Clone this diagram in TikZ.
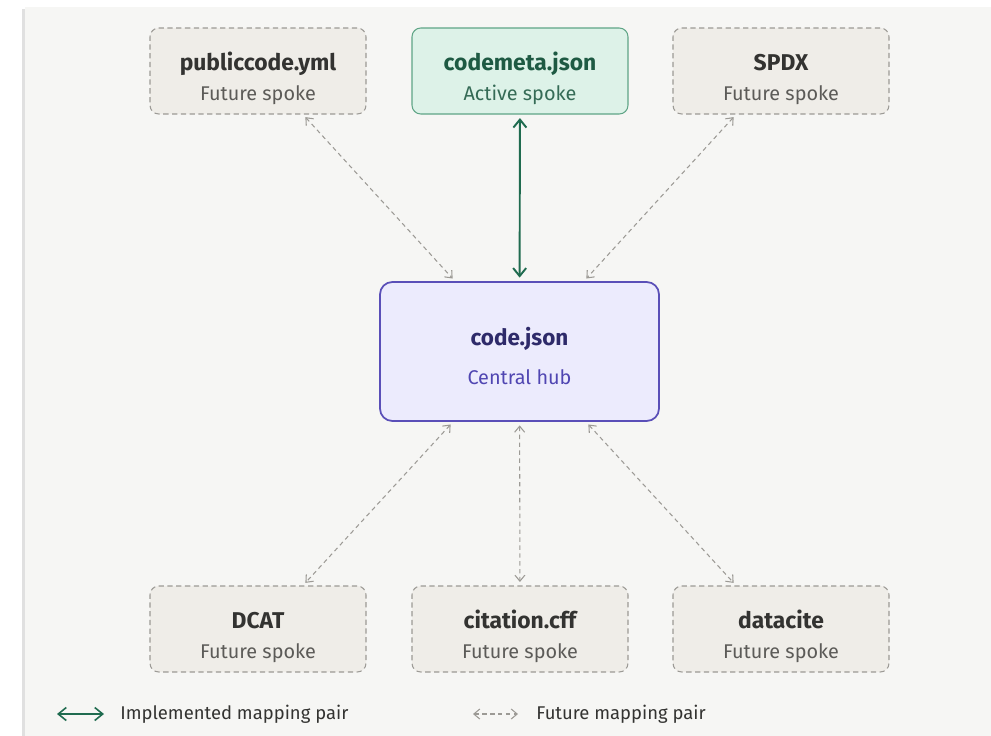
\documentclass[tikz,border=0pt]{standalone}
\usepackage{fontspec}
\setmainfont{Fira Sans}
\usetikzlibrary{arrows.meta}
\definecolor{panel}{HTML}{F6F6F4}
\definecolor{futfill}{HTML}{EFEDE8}
\definecolor{futline}{HTML}{9C9A95}
\definecolor{actfill}{HTML}{DDF2E8}
\definecolor{actline}{HTML}{5FA586}
\definecolor{acttext}{HTML}{1E5A43}
\definecolor{hubfill}{HTML}{ECEBFD}
\definecolor{hubline}{HTML}{5A4FB8}
\definecolor{hubtitle}{HTML}{2E2A6A}
\definecolor{hubsub}{HTML}{5046B2}
\definecolor{implgreen}{HTML}{1F6B4F}
\definecolor{darktext}{HTML}{333331}
\definecolor{subtext}{HTML}{5C5B58}
\tikzset{
  spoke/.style={rectangle, rounded corners=5pt, minimum width=4.32cm,
    minimum height=1.72cm, align=center, font=\fontsize{13}{17}\selectfont},
  future/.style={spoke, fill=futfill, draw=futline, dashed, dash pattern=on 3pt off 2pt, line width=0.6pt},
  active/.style={spoke, fill=actfill, draw=actline, line width=0.6pt},
  hubbox/.style={rectangle, rounded corners=7pt, minimum width=5.58cm,
    minimum height=2.78cm, align=center, fill=hubfill, draw=hubline, line width=1pt,
    font=\fontsize{12.8}{22.2}\selectfont},
  implemented/.style={{Straight Barb[length=1.6mm,width=2.6mm]}-{Straight Barb[length=1.6mm,width=2.6mm]}, implgreen, line width=1.1pt},
  planned/.style={{Straight Barb[length=1.2mm,width=2mm]}-{Straight Barb[length=1.2mm,width=2mm]}, futline, dashed, dash pattern=on 2.5pt off 2pt, line width=0.6pt}
}
\newcommand{\spokelabel}[4]{\rule{0pt}{19pt}{\bfseries\color{#3}#1}\\{\fontsize{11.3}{12}\selectfont\color{#4}#2}}
\begin{document}
\begin{tikzpicture}
  \useasboundingbox (0,0) rectangle (19.82,-14.72);
  \fill[black!12] (0.44,-0.18) rectangle (19.82,-14.72);
  \fill[panel] (0.5,-0.14) rectangle (19.82,-14.72);
  \draw
    (5.16,-1.42) node[future] (pub){\spokelabel{publiccode.yml}{Future spoke}{darktext}{subtext}}
    (10.4,-1.42) node[active] (meta){\spokelabel{codemeta.json}{Active spoke}{acttext}{acttext!90!white}}
    (15.62,-1.42) node[future] (spdx){\spokelabel{SPDX}{Future spoke}{darktext}{subtext}}
    (10.39,-7.03) node[hubbox] (hub){\rule{0pt}{16pt}{\bfseries\color{hubtitle}code.json}\\{\fontsize{11.3}{12}\selectfont\color{hubsub}Central hub}}
    (5.16,-12.58) node[future] (dcat){\spokelabel{DCAT}{Future spoke}{darktext}{subtext}}
    (10.4,-12.58) node[future] (cff){\spokelabel{citation.cff}{Future spoke}{darktext}{subtext}}
    (15.62,-12.58) node[future] (dc){\spokelabel{datacite}{Future spoke}{darktext}{subtext}};
  \begin{scope}[shorten <=2pt, shorten >=2pt]
    \draw[implemented] (meta) to (hub);
    \draw[planned] ([xshift=0.9cm]pub.south) to ([xshift=-1.29cm]hub.north);
    \draw[planned] ([xshift=-0.9cm]spdx.south) to ([xshift=1.29cm]hub.north);
    \draw[planned] ([xshift=-1.33cm]hub.south) to ([xshift=0.9cm]dcat.north);
    \draw[planned] (hub) to (cff);
    \draw[planned] ([xshift=1.33cm]hub.south) to ([xshift=-0.9cm]dc.north);
  \end{scope}
  % legend
  \coordinate (imA) at (1.14,-14.28);
  \coordinate (imB) at (2.08,-14.28);
  \coordinate (fuA) at (9.46,-14.28);
  \coordinate (fuB) at (10.36,-14.28);
  \draw[implemented, line width=0.9pt] (imA) to (imB);
  \draw[planned] (fuA) to (fuB);
  \node[anchor=west, inner sep=0pt, font=\fontsize{10.5}{12}\selectfont, text=darktext] (imtext) at (2.4,-14.28) {Implemented mapping pair};
  \node[anchor=west, inner sep=0pt, font=\fontsize{10.5}{12}\selectfont, text=darktext] (futext) at (10.72,-14.28) {Future mapping pair};
\end{tikzpicture}
\end{document}
